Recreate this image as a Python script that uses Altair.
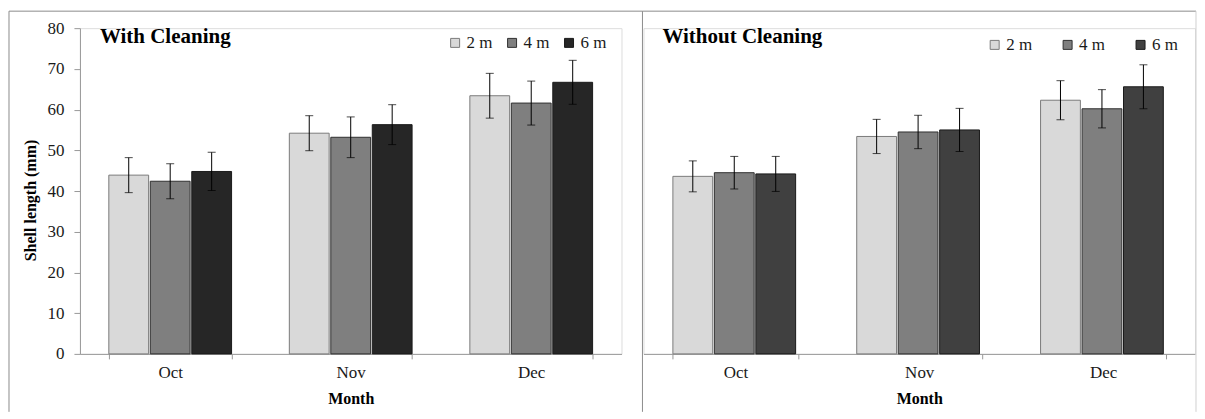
import altair as alt
import pandas as pd

FONT = "Liberation Serif"

months = ["Oct", "Nov", "Dec"]
depths = ["2 m", "4 m", "6 m"]

# With Cleaning: mean shell length (mm) and error (mm)
with_2m = [43.9, 54.2, 63.4]
with_4m = [42.4, 53.2, 61.6]
with_6m = [44.8, 56.3, 66.7]
with_2m_err = [4.3, 4.3, 5.5]
with_4m_err = [4.3, 5.0, 5.4]
with_6m_err = [4.7, 4.9, 5.4]

# Without Cleaning
without_2m = [43.6, 53.4, 62.3]
without_4m = [44.5, 54.5, 60.2]
without_6m = [44.2, 55.0, 65.6]
without_2m_err = [3.8, 4.2, 4.8]
without_4m_err = [4.0, 4.1, 4.7]
without_6m_err = [4.3, 5.3, 5.4]

with_colors = ["#d9d9d9", "#7f7f7f", "#262626"]
without_colors = ["#d9d9d9", "#7f7f7f", "#404040"]
bar_strokes = ["#7a7a7a", "#303030", "#1a1a1a"]


def frame(means, errs):
    rows = []
    for d, mlist, elist in zip(depths, means, errs):
        for mo, v, e in zip(months, mlist, elist):
            rows.append({"month": mo, "depth": d, "mean": v, "lo": v - e, "hi": v + e})
    return pd.DataFrame(rows)


df_with = frame([with_2m, with_4m, with_6m], [with_2m_err, with_4m_err, with_6m_err])
df_without = frame([without_2m, without_4m, without_6m],
                   [without_2m_err, without_4m_err, without_6m_err])

H = 326
BORDER = "#8c8c8c"


def deco_line(x1, x2, y1, y2, color=BORDER):
    if x2 is None:
        enc = dict(x=alt.value(x1), y=alt.value(y1), y2=alt.value(y2))
    else:
        enc = dict(x=alt.value(x1), x2=alt.value(x2), y=alt.value(y1))
    return alt.Chart(alt.Data(values=[{}])).mark_rule(color=color, strokeWidth=1).encode(**enc)


def panel(df, title, colors, width, show_y, legend_x, legend_y, col_pad, title_x, borders):
    x = alt.X("month:N", sort=months,
              scale=alt.Scale(paddingInner=0.32, paddingOuter=0.16),
              axis=alt.Axis(title="Month", labelAngle=0, tickBand="extent",
                            domainColor="#999999", tickColor="#999999", tickSize=5,
                            labelFont=FONT, labelFontSize=17, labelColor="#1a1a1a",
                            labelPadding=6, titleFont=FONT, titleFontSize=16,
                            titleFontWeight="bold", titleColor="#000000", titlePadding=10))
    xo = alt.XOffset("depth:N", sort=depths, scale=alt.Scale(paddingInner=0.04, paddingOuter=0))
    if show_y:
        yaxis = alt.Axis(title="Shell length (mm)", values=list(range(0, 81, 10)), grid=False,
                         domainColor="#999999", tickColor="#999999", tickSize=6,
                         labelFont=FONT, labelFontSize=17, labelColor="#1a1a1a", labelPadding=10,
                         titleFont=FONT, titleFontSize=16, titleFontWeight="bold",
                         titleColor="#000000", titlePadding=8, titleY=172)
    else:
        yaxis = None
    yscale = alt.Scale(domain=[0, 80], nice=False)
    color = alt.Color("depth:N", sort=depths,
                      scale=alt.Scale(domain=depths, range=colors),
                      legend=alt.Legend(orient="none", legendX=legend_x, legendY=legend_y,
                                        direction="horizontal", title=None, symbolType="square",
                                        symbolSize=81, symbolStrokeColor="#404040",
                                        symbolStrokeWidth=1, labelFont=FONT, labelFontSize=17,
                                        labelColor="#1a1a1a", columnPadding=col_pad,
                                        labelOffset=3, padding=0))
    stroke = alt.Stroke("depth:N", sort=depths,
                        scale=alt.Scale(domain=depths, range=bar_strokes), legend=None)

    bars = alt.Chart(df).mark_bar(strokeWidth=1).encode(
        x=x, xOffset=xo, y=alt.Y("mean:Q", scale=yscale, axis=yaxis),
        color=color, stroke=stroke)
    ylo = alt.Y("lo:Q", scale=yscale, axis=yaxis)
    rules = alt.Chart(df).mark_rule(color="#000000", strokeWidth=1).encode(
        x=x, xOffset=xo, y=ylo, y2="hi:Q")
    cap_lo = alt.Chart(df).mark_tick(color="#000000", size=8, thickness=1).encode(
        x=x, xOffset=xo, y=ylo)
    cap_hi = alt.Chart(df).mark_tick(color="#000000", size=8, thickness=1).encode(
        x=x, xOffset=xo, y=alt.Y("hi:Q", scale=yscale, axis=yaxis))
    label = alt.Chart(alt.Data(values=[{}])).mark_text(
        text=title, align="left", baseline="alphabetic", font=FONT, fontSize=21,
        fontWeight="bold", color="#000000").encode(x=alt.value(title_x), y=alt.value(15))
    layers = [bars, rules, cap_lo, cap_hi, label] + borders
    return alt.layer(*layers).properties(width=width, height=H)


left = panel(df_with, "With Cleaning", with_colors, 542, True, 367, 6, 11, 20, [
    deco_line(-71, 563, -17, None),
    deco_line(-71, None, -17, 384),
    deco_line(563, None, -17, 384),
])
right = panel(df_without, "Without Cleaning", without_colors, 552, False, 343, 8, 27, 19, [
    deco_line(-1, 553, -17, None),
    deco_line(553, None, -17, 384, "#d0d0d0"),
])

chart = alt.hconcat(left, right, spacing=22, bounds="flush",
                    padding={"left": 0, "top": 2, "right": 0, "bottom": 0}).resolve_scale(
    color="independent", stroke="independent").configure_view(stroke=None).configure(font=FONT)

chart.save("out.html", embed_options={"renderer": "svg", "actions": False})
